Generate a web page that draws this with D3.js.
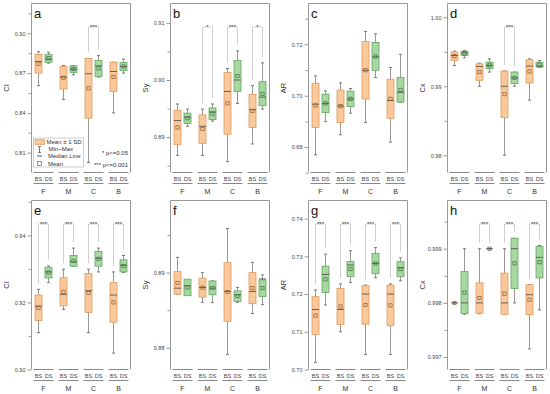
<!DOCTYPE html>
<html>
<head>
<meta charset="utf-8">
<script src="https://cdn.jsdelivr.net/npm/d3@7"></script>
<style>
  body { margin: 0; background: #fff; }
  text { font-family: Arial, 'Liberation Sans', sans-serif; }
</style>
</head>
<body>
<div id="vis"></div>
<script>
const WIDTH = 550;
const HEIGHT = 394;

const groups = ['F', 'M', 'C', 'B'];
const methods = ['BS', 'DS'];

// one row per box: F-BS, F-DS, M-BS, M-DS, C-BS, C-DS, B-BS, B-DS
// columns: min, mean, sd, median, max
const statsA = [
  [0.8605, 0.8771, 0.0071, 0.8787, 0.8862],
  [0.8775, 0.8812, 0.0030, 0.8805, 0.8857],
  [0.8500, 0.8665, 0.0085, 0.8670, 0.8757],
  [0.8687, 0.8730, 0.0025, 0.8730, 0.8757],
  [0.8025, 0.8585, 0.0225, 0.8695, 0.8810],
  [0.8670, 0.8735, 0.0060, 0.8755, 0.8832],
  [0.8400, 0.8672, 0.0110, 0.8712, 0.8782],
  [0.8700, 0.8750, 0.0030, 0.8750, 0.8805],
];
const statsB = [
  [0.8868, 0.8917, 0.0030, 0.8929, 0.8958],
  [0.8919, 0.8933, 0.0009, 0.8935, 0.8949],
  [0.8868, 0.8914, 0.0025, 0.8919, 0.8949],
  [0.8928, 0.8941, 0.0010, 0.8944, 0.8958],
  [0.8857, 0.8959, 0.0054, 0.8980, 0.9020],
  [0.8959, 0.9007, 0.0027, 0.9000, 0.9051],
  [0.8888, 0.8946, 0.0029, 0.8948, 0.8990],
  [0.8949, 0.8976, 0.0021, 0.8970, 0.9030],
];
const statsC = [
  [0.6770, 0.6962, 0.0086, 0.6967, 0.7077],
  [0.6899, 0.6970, 0.0036, 0.6970, 0.7019],
  [0.6848, 0.6959, 0.0063, 0.6960, 0.7050],
  [0.6932, 0.6988, 0.0030, 0.6987, 0.7028],
  [0.6896, 0.7099, 0.0112, 0.7099, 0.7250],
  [0.7071, 0.7153, 0.0054, 0.7151, 0.7241],
  [0.6819, 0.6988, 0.0076, 0.6981, 0.7110],
  [0.6974, 0.7023, 0.0048, 0.7013, 0.7161],
];
const statsD = [
  [0.99300, 0.99436, 0.00062, 0.99446, 0.99508],
  [0.99412, 0.99477, 0.00031, 0.99484, 0.99518],
  [0.99000, 0.99206, 0.00120, 0.99288, 0.99336],
  [0.99206, 0.99302, 0.00048, 0.99302, 0.99398],
  [0.98000, 0.98885, 0.00336, 0.99000, 0.99221],
  [0.99000, 0.99122, 0.00084, 0.99120, 0.99206],
  [0.98799, 0.99216, 0.00168, 0.99293, 0.99398],
  [0.99278, 0.99314, 0.00036, 0.99293, 0.99374],
];
const statsE = [
  [0.9110, 0.9184, 0.0038, 0.9189, 0.9239],
  [0.9259, 0.9289, 0.0016, 0.9291, 0.9309],
  [0.9179, 0.9232, 0.0042, 0.9224, 0.9299],
  [0.9308, 0.9324, 0.0016, 0.9321, 0.9362],
  [0.9110, 0.9228, 0.0058, 0.9235, 0.9299],
  [0.9291, 0.9330, 0.0022, 0.9332, 0.9362],
  [0.9049, 0.9200, 0.0059, 0.9222, 0.9291],
  [0.9289, 0.9309, 0.0018, 0.9311, 0.9340],
];
const statsF = [
  [0.88714, 0.88863, 0.00150, 0.88793, 0.89203],
  [0.88705, 0.88802, 0.00110, 0.88824, 0.88890],
  [0.88604, 0.88800, 0.00126, 0.88802, 0.89000],
  [0.88604, 0.88797, 0.00092, 0.88793, 0.88890],
  [0.87912, 0.88742, 0.00390, 0.88749, 0.89586],
  [0.88604, 0.88687, 0.00070, 0.88705, 0.88802],
  [0.88454, 0.88793, 0.00207, 0.88749, 0.89137],
  [0.88573, 0.88793, 0.00110, 0.88916, 0.88969],
];
const statsG = [
  [0.7019, 0.7143, 0.0050, 0.7159, 0.7211],
  [0.7171, 0.7239, 0.0035, 0.7252, 0.7306],
  [0.7100, 0.7167, 0.0048, 0.7159, 0.7227],
  [0.7231, 0.7266, 0.0020, 0.7277, 0.7315],
  [0.7040, 0.7171, 0.0051, 0.7200, 0.7224],
  [0.7243, 0.7281, 0.0027, 0.7281, 0.7323],
  [0.7040, 0.7170, 0.0054, 0.7200, 0.7227],
  [0.7235, 0.7266, 0.0020, 0.7270, 0.7296],
];
const statsH = [
  [0.99800, 0.99800, 0.000000, 0.99800, 0.99800],
  [0.99779, 0.99819, 0.000390, 0.99800, 0.99900],
  [0.99780, 0.99809, 0.000280, 0.99800, 0.99900],
  [0.99900, 0.99900, 0.000000, 0.99900, 0.99900],
  [0.99779, 0.99817, 0.000380, 0.99800, 0.99900],
  [0.99800, 0.99873, 0.000465, 0.99900, 0.99919],
  [0.99715, 0.99806, 0.000275, 0.99815, 0.99834],
  [0.99787, 0.99875, 0.000290, 0.99884, 0.99906],
];

// y axis extents, labelled ticks and unlabelled minor ticks
const domainA = [0.795, 0.9225], ticksA = [0.81, 0.84, 0.87, 0.90], minorA = [0.825, 0.855, 0.885, 0.915];
const domainB = [0.8838, 0.9134], ticksB = [0.89, 0.90, 0.91], minorB = [0.885, 0.895, 0.905];
const domainC = [0.6701, 0.7359], ticksC = [0.68, 0.70, 0.72], minorC = [0.67, 0.69, 0.71, 0.73];
const domainD = [0.9775, 1.0020], ticksD = [0.98, 0.99, 1.00], minorD = [0.985, 0.995];
const domainE = [0.900, 0.9504], ticksE = [0.90, 0.92, 0.94], minorE = [0.91, 0.93, 0.95];
const domainF = [0.8771, 0.8996], ticksF = [0.88, 0.89], minorF = [0.885, 0.895];
const domainG = [0.700, 0.7448], ticksG = [0.70, 0.71, 0.72, 0.73, 0.74], minorG = [];
const domainH = [0.99677, 0.99989], ticksH = [0.997, 0.998, 0.999], minorH = [0.9975, 0.9985, 0.9995];

// significance brackets: group, label
const sigA = [['C', '***']];
const sigB = [['M', '*'], ['C', '***'], ['B', '*']];
const sigC = [];
const sigD = [['C', '***']];
const sigE = [['F', '***'], ['M', '***'], ['C', '***'], ['B', '***']];
const sigF = [];
const sigG = [['F', '***'], ['M', '***'], ['C', '***'], ['B', '***']];
const sigH = [['M', '***'], ['C', '***'], ['B', '***']];

const panelLetters = ['a', 'b', 'c', 'd', 'e', 'f', 'g', 'h'];
const panelTitles = ['CI', 'Sy', 'AR', 'Cx', 'CI', 'Sy', 'AR', 'Cx'];
const tickFormats = ['.2f', '.2f', '.2f', '.2f', '.2f', '.2f', '.2f', '.3f'];

const legendLabels = ['Mean \u00b1 1 SD', 'Min~Max', 'Median Line', 'Mean'];
const pLabels = ['* p<=0.05', '*** p<=0.001'];

const panels = [
  [statsA, domainA, ticksA, minorA, sigA],
  [statsB, domainB, ticksB, minorB, sigB],
  [statsC, domainC, ticksC, minorC, sigC],
  [statsD, domainD, ticksD, minorD, sigD],
  [statsE, domainE, ticksE, minorE, sigE],
  [statsF, domainF, ticksF, minorF, sigF],
  [statsG, domainG, ticksG, minorG, sigG],
  [statsH, domainH, ticksH, minorH, sigH],
];

// layout
const COL_X = [31.5, 170.5, 308.5, 447.5];
const ROW_Y = [3.5, 200.5];
const PW = 99;
const PH = 169;
const BOX_W = 7;

const COLORS = {
  BS: { fill: '#FAC99B', stroke: '#E29A5C', mean: '#8a5a30' },
  DS: { fill: '#A6D8A0', stroke: '#62A862', mean: '#3f6f3f' },
  frame: '#999',
  whisker: '#999',
  median: '#555',
  bracket: '#cfcfcf',
  text: '#333',
};

const SVG = d3.select('#vis').append('svg')
  .attr('width', WIDTH)
  .attr('height', HEIGHT);

panels.forEach((p, i) => drawPanel(p, i));

function drawPanel([stats, domain, ticks, minor, sig], i) {
  const x0 = COL_X[i % 4];
  const y0 = ROW_Y[Math.floor(i / 4)];
  const g = SVG.append('g').attr('transform', `translate(${x0},${y0})`);

  const x = d3.scaleBand().domain(groups).range([0, PW])
    .paddingInner(0.2).paddingOuter(0.08);
  const xs = d3.scalePoint().domain(methods).range([0, x.bandwidth()]).padding(0.5);
  const y = d3.scaleLinear().domain(domain).range([PH, 0]);

  // frame (left, top, right)
  g.append('path')
    .attr('d', `M0,${PH}V0H${PW}V${PH}`)
    .attr('fill', 'none')
    .attr('stroke', COLORS.frame)
    .attr('stroke-width', 1);

  // y axis
  const yAxis = g.append('g')
    .call(d3.axisLeft(y).tickValues(ticks).tickSize(4).tickSizeOuter(0)
      .tickFormat(d3.format(tickFormats[i])));
  yAxis.select('.domain').remove();
  yAxis.selectAll('line').attr('stroke', COLORS.frame);
  yAxis.selectAll('text')
    .attr('x', -6)
    .attr('fill', '#444')
    .style('font-size', '5.5px')
    .style('font-family', 'Arial, Liberation Sans, sans-serif');

  const yMinor = g.append('g')
    .call(d3.axisLeft(y).tickValues(minor).tickSize(3).tickFormat(''));
  yMinor.select('.domain').remove();
  yMinor.selectAll('line').attr('stroke', COLORS.frame);

  // y axis title
  g.append('text')
    .attr('transform', `translate(-23,${PH / 2}) rotate(-90)`)
    .attr('text-anchor', 'middle')
    .attr('fill', COLORS.text)
    .style('font-size', '7.5px')
    .text(panelTitles[i]);

  // panel letter
  g.append('text')
    .attr('x', 2.5)
    .attr('y', 14.5)
    .attr('fill', '#111')
    .style('font-size', '13px')
    .text(panelLetters[i]);

  // category axis: BS/DS under each group, then group letter
  groups.forEach((grp) => {
    const gx = x(grp);
    [PH, PH + 11].forEach((ly) => {
      g.append('line')
        .attr('x1', gx).attr('x2', gx + x.bandwidth())
        .attr('y1', ly).attr('y2', ly)
        .attr('stroke', '#888');
    });
    methods.forEach((m) => {
      g.append('text')
        .attr('x', gx + xs(m))
        .attr('y', PH + 8.5)
        .attr('text-anchor', 'middle')
        .attr('fill', '#444')
        .style('font-size', '5.5px')
        .text(m);
    });
    g.append('text')
      .attr('x', gx + x.bandwidth() / 2)
      .attr('y', PH + 21)
      .attr('text-anchor', 'middle')
      .attr('fill', COLORS.text)
      .style('font-size', '7px')
      .text(grp);
  });

  // significance brackets
  const top = 23.5;
  sig.forEach(([grp, label]) => {
    const k = groups.indexOf(grp);
    const xb = x(grp) + xs('BS');
    const xd = x(grp) + xs('DS');
    const legB = Math.max(top + 6, y(stats[2 * k][4]) - 6);
    const legD = Math.max(top + 6, y(stats[2 * k + 1][4]) - 6);
    g.append('path')
      .attr('d', `M${xb},${legB}V${top}H${xd}V${legD}`)
      .attr('fill', 'none')
      .attr('stroke', COLORS.bracket)
      .attr('stroke-width', 1);
    g.append('text')
      .attr('x', (xb + xd) / 2)
      .attr('y', top + 1.5)
      .attr('text-anchor', 'middle')
      .attr('fill', COLORS.text)
      .style('font-size', '6px')
      .text(label);
  });

  // boxes
  stats.forEach(([mn, mean, sd, median, mx], j) => {
    const grp = groups[Math.floor(j / 2)];
    const m = methods[j % 2];
    const cx = x(grp) + xs(m);
    const col = COLORS[m];

    g.append('line')
      .attr('x1', cx).attr('x2', cx)
      .attr('y1', y(mn)).attr('y2', y(mx))
      .attr('stroke', COLORS.whisker);
    [mn, mx].forEach((v) => {
      g.append('line')
        .attr('x1', cx - 1.5).attr('x2', cx + 1.5)
        .attr('y1', y(v)).attr('y2', y(v))
        .attr('stroke', '#777');
    });

    g.append('rect')
      .attr('x', cx - BOX_W / 2)
      .attr('y', y(mean + sd))
      .attr('width', BOX_W)
      .attr('height', Math.max(0, y(mean - sd) - y(mean + sd)))
      .attr('fill', col.fill)
      .attr('stroke', col.stroke)
      .attr('stroke-width', 0.8);

    g.append('line')
      .attr('x1', cx - BOX_W / 2).attr('x2', cx + BOX_W / 2)
      .attr('y1', y(median)).attr('y2', y(median))
      .attr('stroke', COLORS.median)
      .attr('stroke-width', 0.9);

    g.append('rect')
      .attr('x', cx - 1.6)
      .attr('y', y(mean) - 1.6)
      .attr('width', 3.2)
      .attr('height', 3.2)
      .attr('fill', 'none')
      .attr('stroke', col.mean)
      .attr('stroke-width', 0.7);
  });

  if (i === 0) drawLegend(g);
}

function drawLegend(g) {
  const lx = 2, ly = 134.5;
  g.append('rect')
    .attr('x', lx).attr('y', ly)
    .attr('width', 50).attr('height', 29)
    .attr('fill', '#fff')
    .attr('stroke', '#aaa')
    .attr('stroke-width', 0.6);

  // swatch
  g.append('rect')
    .attr('x', lx + 1.5).attr('y', ly + 1.5)
    .attr('width', 9.5).attr('height', 5)
    .attr('fill', COLORS.BS.fill)
    .attr('stroke', COLORS.BS.stroke)
    .attr('stroke-width', 0.7);
  // min~max icon
  g.append('line')
    .attr('x1', lx + 6).attr('x2', lx + 6)
    .attr('y1', ly + 8.5).attr('y2', ly + 14.5)
    .attr('stroke', '#777');
  [ly + 8.5, ly + 14.5].forEach((v) => {
    g.append('line')
      .attr('x1', lx + 4.5).attr('x2', lx + 7.5)
      .attr('y1', v).attr('y2', v)
      .attr('stroke', '#777');
  });
  // median icon
  g.append('line')
    .attr('x1', lx + 3.5).attr('x2', lx + 8.5)
    .attr('y1', ly + 18).attr('y2', ly + 18)
    .attr('stroke', COLORS.median);
  // mean icon
  g.append('rect')
    .attr('x', lx + 4).attr('y', ly + 23.5)
    .attr('width', 4).attr('height', 4)
    .attr('fill', 'none')
    .attr('stroke', '#555')
    .attr('stroke-width', 0.6);

  const textX = [lx + 13, lx + 15, lx + 14.5, lx + 14.5];
  const textY = [ly + 6, ly + 13.2, ly + 20, ly + 27.5];
  legendLabels.forEach((t, k) => {
    g.append('text')
      .attr('x', textX[k])
      .attr('y', textY[k])
      .attr('fill', COLORS.text)
      .style('font-size', '6px')
      .text(t);
  });

  const pY = [151.5, 163];
  pLabels.forEach((t, k) => {
    g.append('text')
      .attr('x', 96.5)
      .attr('y', pY[k])
      .attr('text-anchor', 'end')
      .attr('fill', COLORS.text)
      .style('font-size', '6px')
      .text(t);
  });
}
</script>
</body>
</html>
